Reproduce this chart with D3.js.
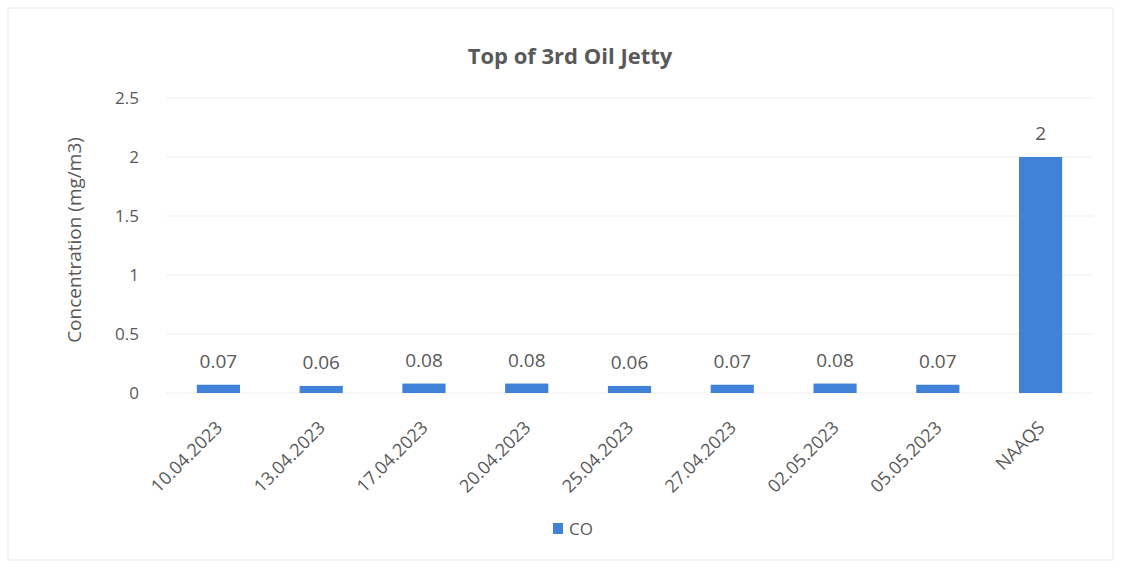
<!DOCTYPE html>
<html>
<head>
<meta charset="utf-8">
<script src="https://cdn.jsdelivr.net/npm/d3@7"></script>
<style>
  body { margin: 0; background: #fff; }
  text { font-family: "Open Sans", "Noto Sans", sans-serif; }
</style>
</head>
<body>
<div id="chart"></div>
<script>
// Chart data
var categories = ["10.04.2023", "13.04.2023", "17.04.2023", "20.04.2023", "25.04.2023",
                  "27.04.2023", "02.05.2023", "05.05.2023", "NAAQS"];
var coValues = [0.07, 0.06, 0.08, 0.08, 0.06, 0.07, 0.08, 0.07, 2];
var yTicks = [0, 0.5, 1, 1.5, 2, 2.5];

var width = 1121, height = 572;
var barColor = "#3f82d8";
var textColor = "#595959";

var svg = d3.select("#chart").append("svg")
	.attr("width", width)
	.attr("height", height);

// faint frame of the chart area
svg.append("rect")
	.attr("x", 8).attr("y", 8)
	.attr("width", width - 16).attr("height", 552)
	.style("fill", "none")
	.style("stroke", "#e8e8e8")
	.style("stroke-width", 1);

var plotLeft = 166, plotRight = 1093;
var x = d3.scaleBand().domain(categories).range([plotLeft, plotRight]).paddingInner(0.58).paddingOuter(0.3);
var y = d3.scaleLinear().domain([0, 2.5]).range([393, 98]);

// gridlines
svg.selectAll(".grid")
	.data(yTicks)
	.enter()
	.append("line")
		.attr("class", "grid")
		.attr("x1", plotLeft).attr("x2", plotRight)
		.attr("y1", function(d) { return y(d); })
		.attr("y2", function(d) { return y(d); })
		.style("stroke", "#efefef")
		.style("stroke-width", 1);

// y axis (labels only)
var yAxis = svg.append("g")
	.attr("transform", "translate(" + (plotLeft - 24) + ",0)")
	.call(d3.axisLeft(y).tickValues(yTicks).tickSize(0).tickFormat(d3.format("")));
yAxis.select(".domain").remove();
yAxis.selectAll("text")
	.style("font-size", "17px")
	.style("fill", textColor);

// x axis (labels only, rotated)
var xAxis = svg.append("g")
	.attr("transform", "translate(0," + 416 + ")")
	.call(d3.axisBottom(x).tickSize(0));
xAxis.select(".domain").remove();
xAxis.selectAll("text")
	.style("font-size", "18px")
	.style("fill", textColor)
	.style("text-anchor", "end")
	.attr("dx", "-0.3em")
	.attr("dy", "0.7em")
	.attr("y", 0)
	.attr("transform", "rotate(-45)");

// bars
svg.selectAll(".bar")
	.data(coValues)
	.enter()
	.append("rect")
		.attr("class", "bar")
		.attr("x", function(d, i) { return x(categories[i]); })
		.attr("width", x.bandwidth())
		.attr("y", function(d) { return y(d); })
		.attr("height", function(d) { return y(0) - y(d); })
		.style("fill", barColor);

// data labels
svg.selectAll(".dlabel")
	.data(coValues)
	.enter()
	.append("text")
		.attr("class", "dlabel")
		.attr("x", function(d, i) { return x(categories[i]) + x.bandwidth() / 2; })
		.attr("y", function(d) { return y(d) - 17; })
		.style("text-anchor", "middle")
		.style("font-size", "19px")
		.style("fill", textColor)
		.text(function(d) { return d3.format("")(d); });

// title
svg.append("text")
	.attr("x", 570).attr("y", 64)
	.style("text-anchor", "middle")
	.style("font-size", "22px")
	.style("font-weight", 700)
	.style("fill", textColor)
	.text("Top of 3rd Oil Jetty");

// y axis title
svg.append("text")
	.attr("transform", "translate(81,240) rotate(-90)")
	.style("text-anchor", "middle")
	.style("font-size", "19px")
	.style("fill", textColor)
	.text("Concentration (mg/m3)");

// legend
svg.append("rect")
	.attr("x", 553).attr("y", 523)
	.attr("width", 10).attr("height", 11)
	.style("fill", barColor);
svg.append("text")
	.attr("x", 569).attr("y", 535)
	.style("font-size", "17px")
	.style("fill", textColor)
	.text("CO");
</script>
</body>
</html>
